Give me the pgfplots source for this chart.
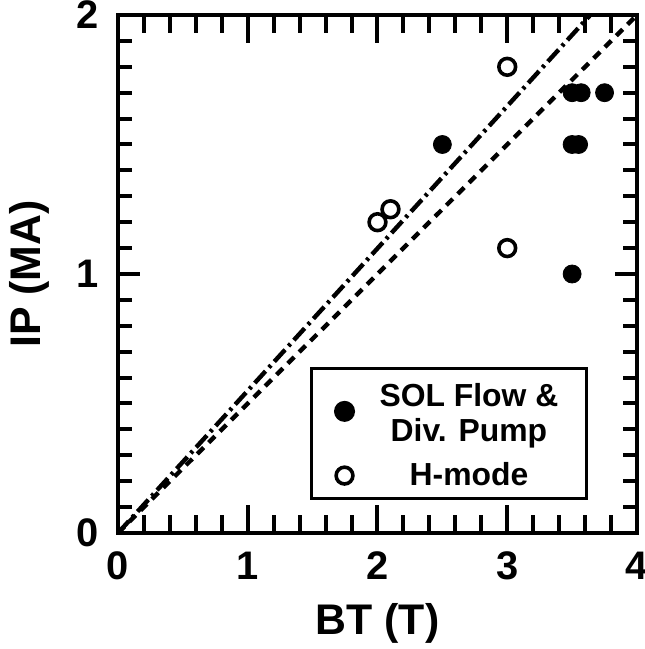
\documentclass[border=0pt]{standalone}
\usepackage{fontspec}
\setmainfont{Liberation Sans}
\usepackage{pgfplots}
\pgfplotsset{compat=1.18}
\begin{document}
\begin{tikzpicture}
\pgfplotsset{
  base/.style={
    scale only axis, width=259.5bp, height=259bp,
    xmin=0, xmax=4, ymin=0, ymax=2,
    axis line style={line width=2bp},
    tick align=inside,
    every tick/.style={line width=2bp, black},
    xticklabel style={yshift=-6bp, font=\bfseries\fontsize{20}{22}\selectfont},
    yticklabel style={xshift=-6bp, font=\bfseries\fontsize{20}{22}\selectfont},
    /pgf/number format/assume math mode=true,
    clip=false,
  }
}
\begin{axis}[base, name=ax,
  xtick={0,1,2,3,4}, minor x tick num=4, ytick=\empty,
  major tick length=14bp, minor tick length=9bp,
  xlabel={BT (T)}, ylabel={IP (MA)},
  every axis x label/.style={at={(axis description cs:0.5,-0.175)}, anchor=center,
    font=\bfseries\fontsize{21.5}{24}\selectfont},
  every axis y label/.style={at={(axis description cs:-0.1715,0.5)}, anchor=center, rotate=90,
    font=\bfseries\fontsize{21.5}{24}\selectfont},
  legend style={at={(axis cs:1.48,0.127)}, anchor=south west, draw=black, line width=1.5bp,
    font=\bfseries\fontsize{16}{19}\selectfont, inner xsep=12bp, inner ysep=3bp, row sep=5bp,
    column sep=11bp},
  legend cell align=center,
]
\addplot[only marks, mark=*, mark size=4.5bp, draw=black, fill=black] coordinates {
  (2.5,1.5) (3.5,1.7) (3.57,1.7) (3.75,1.7) (3.5,1.5) (3.55,1.5) (3.5,1.0)
};
\addlegendentry{\shortstack{\rule{0pt}{14bp}SOL Flow \&\\[3bp]Div. Pump}}
\addplot[only marks, mark=o, mark size=4.2bp, line width=1.8bp, draw=black, mark options={fill=white, line width=1.8bp}] coordinates {
  (3.0,1.8) (2.0,1.2) (2.1,1.25) (3.0,1.1)
};
\addlegendentry{H-mode}
\addplot[forget plot, line width=2.2bp, dash pattern=on 4.5bp off 3.5bp] coordinates {(0,0) (4,2)};
\addplot[forget plot, line width=2.2bp, dash pattern=on 8bp off 2.5bp on 1.5bp off 2.5bp] coordinates {(0,0) (3.64,2)};
\end{axis}
\begin{axis}[base, at={(ax.south west)}, anchor=south west,
  xtick=\empty, ytick={0,1,2}, minor y tick num=9,
  major tick length=11bp, minor tick length=7bp]
\end{axis}
\pgfresetboundingbox
\path[use as bounding box] ([xshift=-59bp,yshift=-58bp]ax.south west) rectangle ++(322.5bp,324.5bp);
\end{tikzpicture}
\end{document}
